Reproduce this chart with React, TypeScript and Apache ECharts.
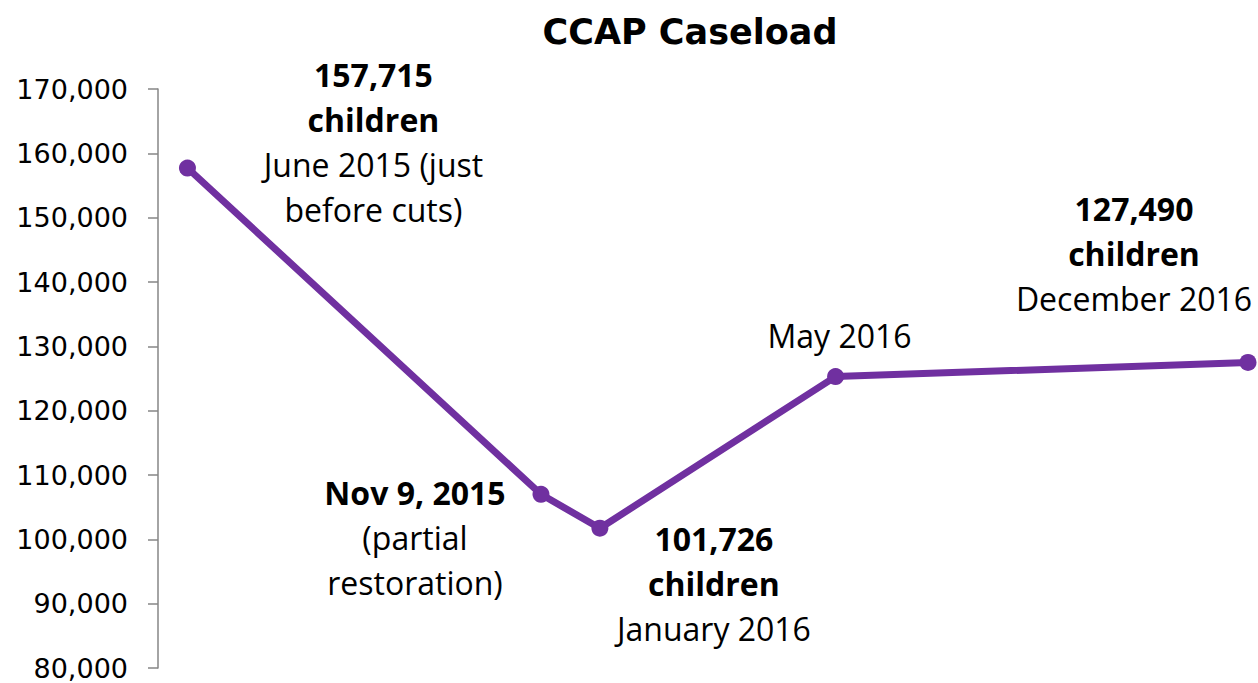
import React, { useEffect, useRef } from "react";
import * as echarts from "echarts";

// Month index since June 2015 (position on the hidden time-like axis)
const monthIndex = [0, 6, 7, 11, 18];
const caseload = [157715, 107000, 101726, 125300, 127490];
const boldLines = [["157,715", "children"], ["Nov 9, 2015"], ["101,726", "children"], [], ["127,490", "children"]];
const normalLines = [["June 2015 (just", "before cuts)"], ["(partial", "restoration)"], ["January 2016"], ["May 2016"], ["December 2016"]];
const yTicks = { min: 80000, max: 170000, step: 10000 };
const title = "CCAP Caseload";

const labelOffsets: [number, number][] = [
  [186, -26],
  [-126, 43],
  [114, 55],
  [4, -41],
  [-114, -109],
];

export default function App() {
  const ref = useRef<HTMLDivElement>(null);
  useEffect(() => {
    if (!ref.current) return;
    const chart = echarts.init(ref.current, undefined, { renderer: "svg" });
    const annFont = "'Open Sans', 'Noto Sans', sans-serif";
    const data = monthIndex.map((m, i) => {
      const parts = [
        ...boldLines[i].map((t) => `{b|${t}}`),
        ...normalLines[i].map((t) => `{n|${t}}`),
      ];
      return {
        value: [m, caseload[i]],
        label: {
          show: true,
          position: "inside",
          align: "center",
          verticalAlign: "middle",
          offset: labelOffsets[i],
          formatter: parts.join("\n"),
        },
      };
    });
    chart.setOption({
      animation: false,
      backgroundColor: "#ffffff",
      title: {
        text: title,
        left: 685,
        textAlign: "center",
        top: 9,
        textStyle: {
          fontFamily: "'DejaVu Sans', sans-serif",
          fontWeight: "bold",
          fontSize: 35,
          color: "#000",
        },
      },
      grid: { left: 158, right: 10, top: 89, bottom: 15, containLabel: false },
      xAxis: {
        type: "value",
        min: -0.5,
        max: 18,
        show: false,
      },
      yAxis: {
        type: "value",
        min: yTicks.min,
        max: yTicks.max,
        interval: yTicks.step,
        axisLine: { show: true, onZero: false, lineStyle: { color: "#868686", width: 1.5 } },
        axisTick: { show: true, length: 10, lineStyle: { color: "#868686", width: 1.5 } },
        splitLine: { show: false },
        axisLabel: {
          margin: 30,
          fontSize: 27,
          color: "#000",
          fontFamily: "'DejaVu Sans', sans-serif",
          formatter: (v: number) => v.toLocaleString("en-US"),
        },
      },
      series: [
        {
          type: "line",
          data,
          symbol: "circle",
          symbolSize: 17,
          lineStyle: { color: "#7030A0", width: 7 },
          itemStyle: { color: "#7030A0" },
          label: {
            rich: {
              b: { fontFamily: annFont, fontWeight: "bold", fontSize: 32, lineHeight: 45, color: "#000" },
              n: { fontFamily: annFont, fontSize: 32, lineHeight: 45, color: "#000" },
            },
          },
          z: 3,
        },
      ],
    });
    return () => chart.dispose();
  }, []);
  return (
    <div
      ref={ref}
      style={{ position: "fixed", left: 0, top: 0, width: 1258, height: 683 }}
    />
  );
}
